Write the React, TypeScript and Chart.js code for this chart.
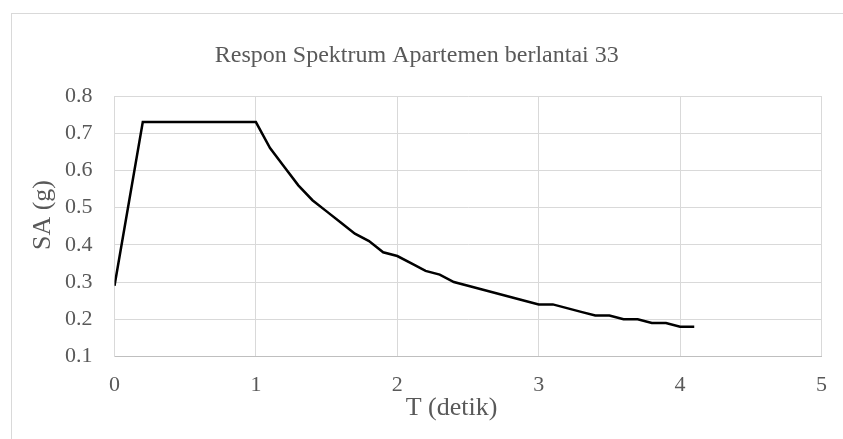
import React, { useEffect, useRef } from "react";
import { Chart, registerables } from "chart.js";

Chart.register(...registerables);

// Periode getar T (detik)
const periods: number[] = [
  0, 0.2, 1.0, 1.1, 1.2, 1.3, 1.4, 1.5, 1.6, 1.7, 1.8, 1.9, 2.0, 2.1, 2.2, 2.3,
  2.4, 2.5, 2.6, 2.7, 2.8, 2.9, 3.0, 3.1, 3.2, 3.3, 3.4, 3.5, 3.6, 3.7, 3.8,
  3.9, 4.0, 4.1,
];

// Percepatan spektral SA (g)
const spectralAcc: number[] = [
  0.29, 0.73, 0.73, 0.66, 0.61, 0.56, 0.52, 0.49, 0.46, 0.43, 0.41, 0.38, 0.37,
  0.35, 0.33, 0.32, 0.3, 0.29, 0.28, 0.27, 0.26, 0.25, 0.24, 0.24, 0.23, 0.22,
  0.21, 0.21, 0.2, 0.2, 0.19, 0.19, 0.18, 0.18,
];

const chartTitle = "Respon Spektrum Apartemen berlantai 33";
const xTitle = "T (detik)";
const yTitle = "SA (g)";

const FONT = "'Liberation Serif', 'Times New Roman', serif";
const TEXT = "#595959";
const GRID = "#d9d9d9";

// Axis titles placed like the spreadsheet layout (slightly off the plot centre)
const axisTitlePlugin = {
  id: "axisTitles",
  afterDraw(chart: any) {
    const { ctx } = chart;
    ctx.save();
    ctx.fillStyle = TEXT;
    ctx.font = `26px ${FONT}`;
    ctx.textAlign = "center";
    ctx.textBaseline = "alphabetic";
    ctx.fillText(xTitle, 439.5, 401);
    ctx.translate(38.3, 201);
    ctx.rotate(-Math.PI / 2);
    ctx.fillText(yTitle, 0, 0);
    ctx.restore();
  },
};

export default function App() {
  const canvasRef = useRef<HTMLCanvasElement | null>(null);

  useEffect(() => {
    document.documentElement.style.overflow = "hidden";
    document.body.style.overflow = "hidden";
    const canvas = canvasRef.current;
    if (!canvas) return;

    const chart = new Chart(canvas, {
      type: "line",
      data: {
        datasets: [
          {
            label: yTitle,
            data: periods.map((t, i) => ({ x: t, y: spectralAcc[i] })),
            borderColor: "#000000",
            borderWidth: 2.5,
            pointRadius: 0,
            tension: 0,
            fill: false,
          },
        ],
      },
      options: {
        responsive: false,
        animation: false,
        layout: { padding: { left: 0, right: 42.5, top: 0, bottom: 0 } },
        plugins: {
          legend: { display: false },
          tooltip: { enabled: false },
          title: {
            display: true,
            text: chartTitle,
            color: TEXT,
            font: { family: FONT, size: 24, weight: "normal", lineHeight: 1.2 },
            padding: { top: 27.6, bottom: 25.6 },
          },
        },
        scales: {
          x: {
            type: "linear",
            min: 0,
            max: 5,
            ticks: {
              stepSize: 1,
              color: TEXT,
              font: { family: FONT, size: 22, lineHeight: 1.2 },
              padding: 15.6,
              maxRotation: 0,
            },
            grid: { color: GRID, lineWidth: 1, drawTicks: false },
            border: { color: "#bfbfbf", width: 1 },
            title: { display: false },
            afterFit: (scale: any) => {
              scale.height = 82.5;
            },
          },
          y: {
            type: "linear",
            min: 0.1,
            max: 0.8,
            ticks: {
              stepSize: 0.1,
              color: TEXT,
              font: { family: FONT, size: 22 },
              padding: 22,
              callback: (v: any) => Number(v).toFixed(1),
            },
            grid: { color: GRID, lineWidth: 1, drawTicks: false },
            border: { color: GRID, width: 1 },
            title: { display: false },
            afterFit: (scale: any) => {
              scale.width = 102.5;
            },
          },
        },
      },
      plugins: [axisTitlePlugin],
    });

    return () => chart.destroy();
  }, []);

  return (
    <div
      style={{
        position: "fixed",
        left: 11,
        top: 13,
        width: 852,
        height: 426,
        borderLeft: "1px solid #d9d9d9",
        borderTop: "1px solid #d9d9d9",
        background: "#ffffff",
      }}
    >
      <canvas
        ref={canvasRef}
        width={852}
        height={425}
        style={{ display: "block", width: 852, height: 425 }}
      />
    </div>
  );
}
